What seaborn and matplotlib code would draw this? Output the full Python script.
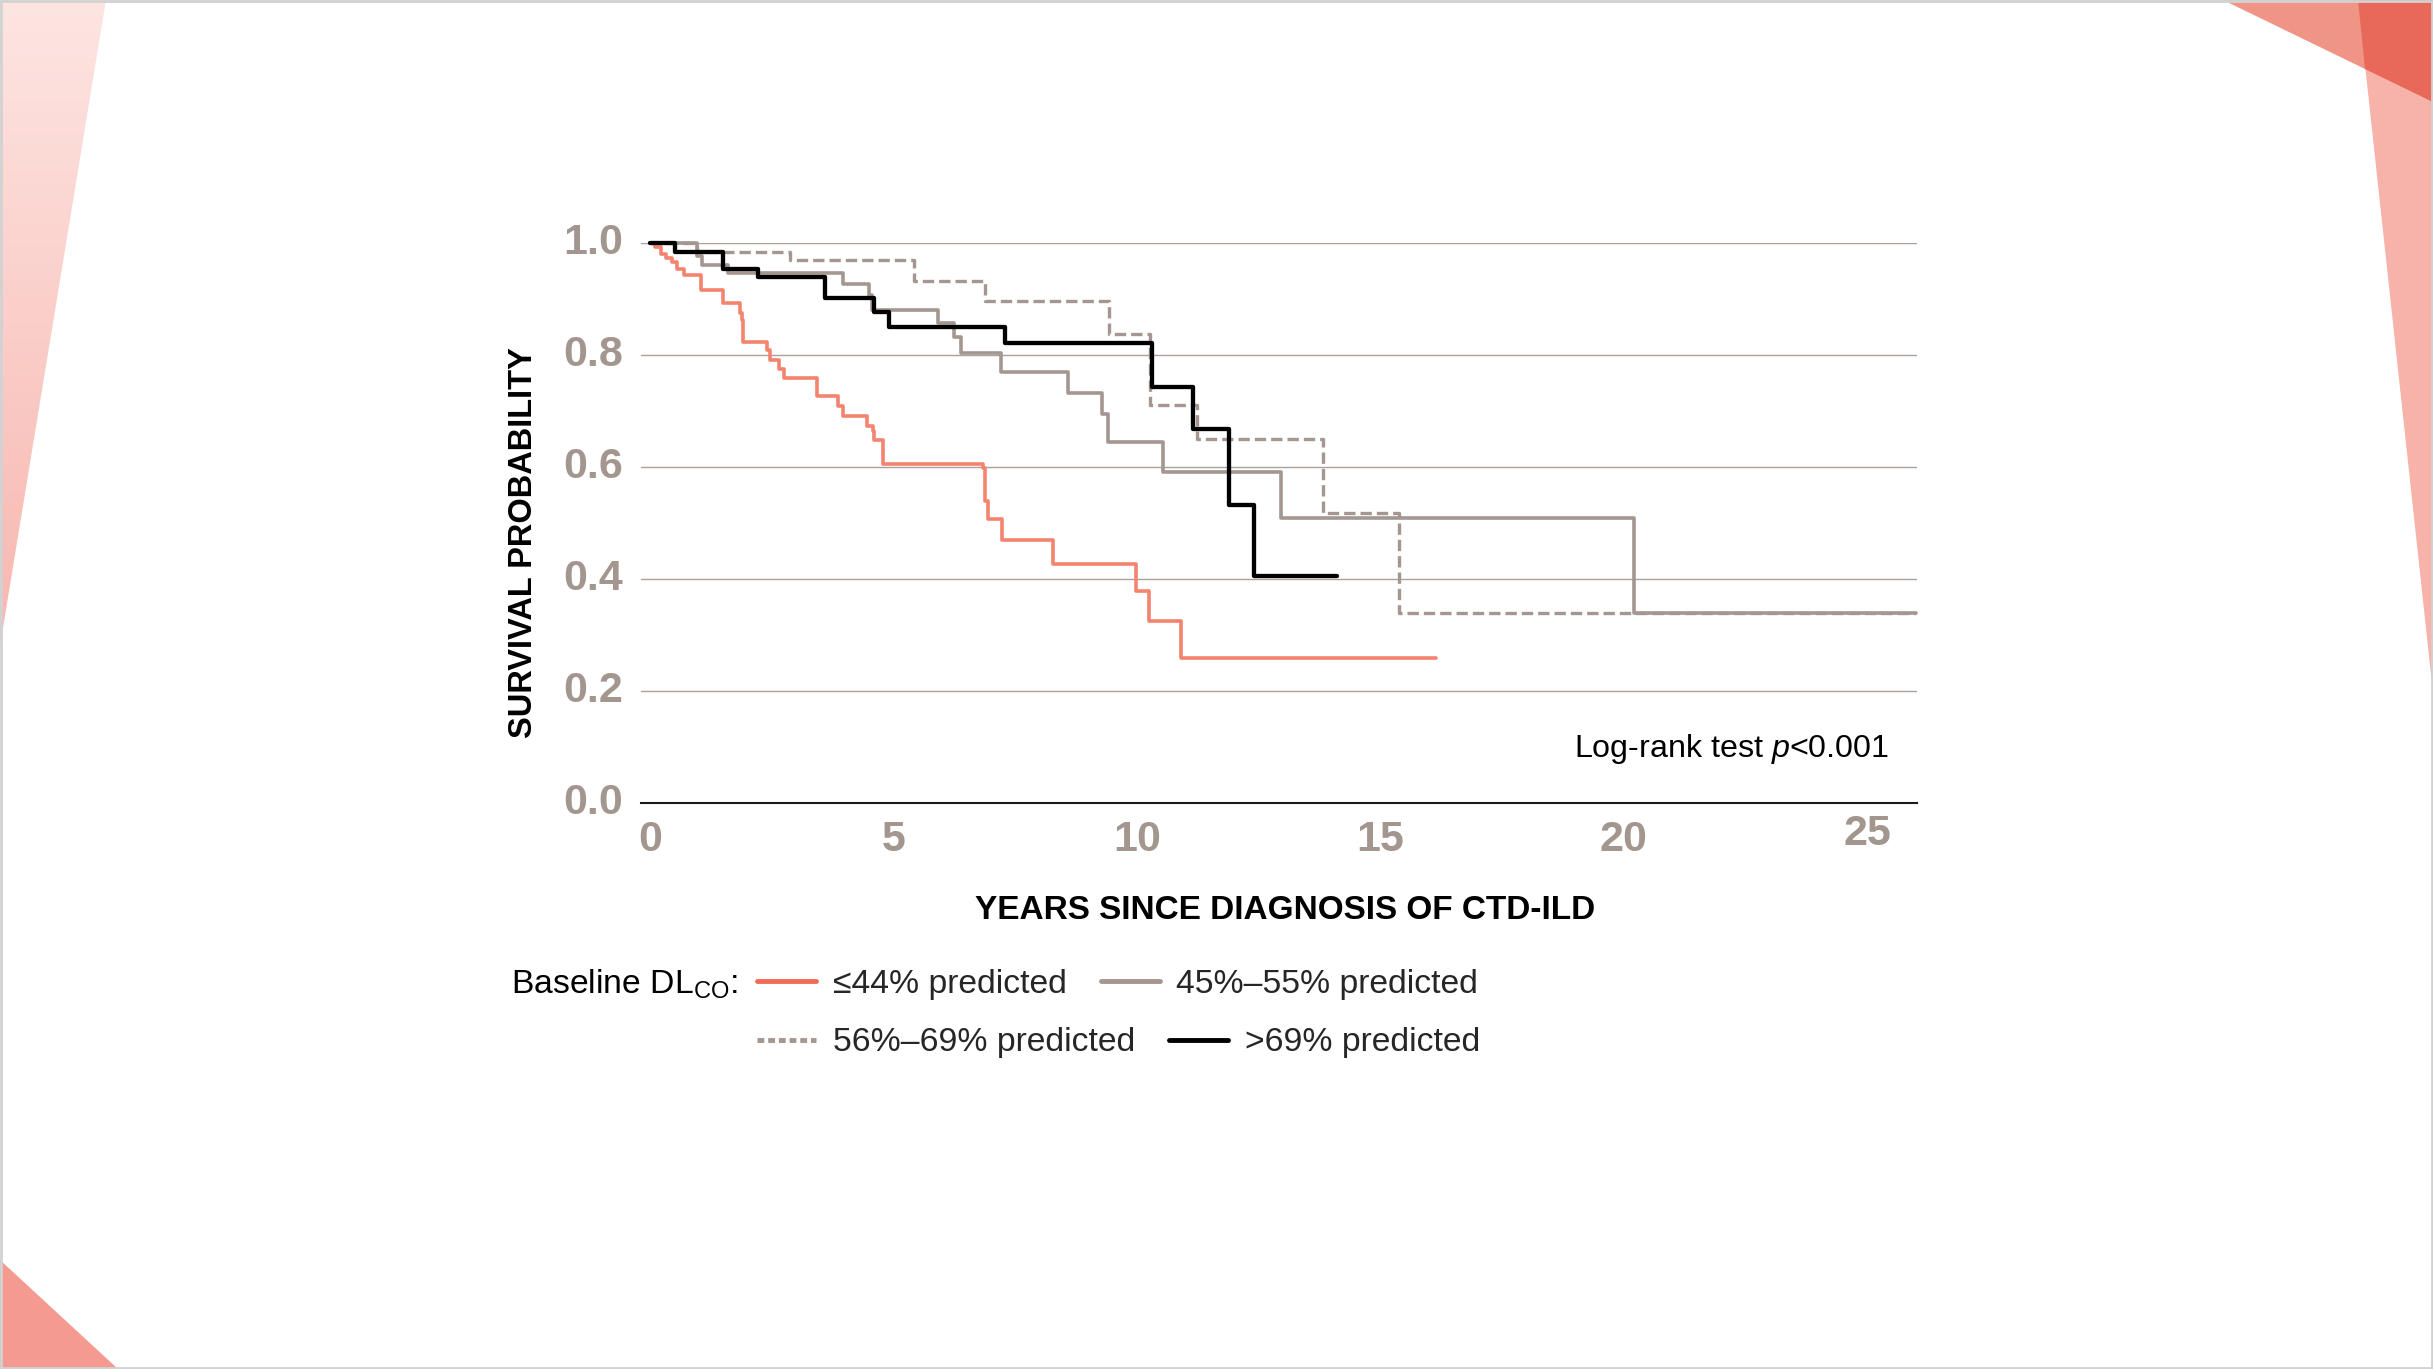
import numpy as np
import pandas as pd
import seaborn as sns
import matplotlib.pyplot as plt
from matplotlib.lines import Line2D
from matplotlib.patches import Polygon, Rectangle
from matplotlib.colors import LinearSegmentedColormap
from matplotlib.transforms import ScaledTranslation

# Kaplan-Meier steps (years, survival probability)
red_time = [0, 0.10, 0.23, 0.33, 0.46, 0.56, 0.69, 1.04, 1.50, 1.84, 1.89, 1.92, 2.40, 2.47, 2.65, 2.76,
            3.42, 3.86, 3.97, 4.46, 4.57, 4.61, 4.78, 6.84, 6.88, 6.95, 7.22, 8.27, 9.99, 10.25, 10.91, 16.15]
red_surv = [1.0, 0.993, 0.981, 0.973, 0.966, 0.955, 0.943, 0.917, 0.894, 0.875, 0.863, 0.824, 0.809, 0.792, 0.775, 0.760,
            0.727, 0.710, 0.692, 0.674, 0.665, 0.649, 0.606, 0.598, 0.539, 0.507, 0.471, 0.427, 0.380, 0.326, 0.260, 0.260]

gray_time = [0, 0.96, 1.07, 1.60, 3.97, 4.50, 4.55, 5.92, 6.24, 6.38, 7.20, 8.59, 9.29, 9.40, 10.54, 12.95, 20.20, 26.0]
gray_surv = [1.0, 0.978, 0.961, 0.947, 0.927, 0.908, 0.881, 0.857, 0.833, 0.804, 0.771, 0.733, 0.696, 0.646, 0.591, 0.510, 0.340, 0.340]

dash_time = [0, 0.96, 2.88, 5.42, 6.88, 9.42, 10.27, 11.23, 13.83, 15.39, 26.0]
dash_surv = [1.0, 0.985, 0.971, 0.933, 0.897, 0.838, 0.711, 0.651, 0.518, 0.340, 0.340]

black_time = [0, 0.52, 1.50, 2.22, 3.59, 4.60, 4.90, 7.29, 10.31, 11.16, 11.89, 12.40, 14.10]
black_surv = [1.0, 0.984, 0.955, 0.940, 0.902, 0.878, 0.850, 0.822, 0.744, 0.668, 0.533, 0.406, 0.406]

groups = ['56%–69% predicted', '45%–55% predicted', '≤44% predicted', '>69% predicted']
legend_row1 = ['≤44% predicted', '45%–55% predicted']
legend_row2 = ['56%–69% predicted', '>69% predicted']
x_ticks = [0, 5, 10, 15, 20, 25]
y_ticks = [0.0, 0.2, 0.4, 0.6, 0.8, 1.0]

RED = '#F5846F'
GRAY = '#A49690'
TICK = '#A2968F'

df = pd.concat([
    pd.DataFrame({'years': dash_time, 'surv': dash_surv, 'group': groups[0]}),
    pd.DataFrame({'years': gray_time, 'surv': gray_surv, 'group': groups[1]}),
    pd.DataFrame({'years': red_time, 'surv': red_surv, 'group': groups[2]}),
    pd.DataFrame({'years': black_time, 'surv': black_surv, 'group': groups[3]}),
])

sns.set_theme(style='white')
plt.rcParams['font.family'] = ['Liberation Sans', 'DejaVu Sans']
plt.rcParams['mathtext.fontset'] = 'custom'
plt.rcParams['mathtext.rm'] = 'Liberation Sans'
plt.rcParams['mathtext.it'] = 'Liberation Sans:italic'
plt.rcParams['mathtext.default'] = 'regular'

W, H = 2433, 1369
fig = plt.figure(figsize=(W / 100, H / 100), dpi=100, facecolor='white')

# slide decorations
bg = fig.add_axes([0, 0, 1, 1], zorder=-5)
bg.set_xlim(0, W)
bg.set_ylim(H, 0)
bg.axis('off')
wedge = Polygon([(0, 0), (106, 0), (0, 646)], closed=True, facecolor='none', edgecolor='none')
bg.add_patch(wedge)
grad = np.linspace(0, 1, 200).reshape(-1, 1)
cmap = LinearSegmentedColormap.from_list('pinkfade', ['#FDE5E2', '#F8B7B0'])
im = bg.imshow(grad, extent=[0, 106, 646, 0], cmap=cmap, aspect='auto')
im.set_clip_path(wedge)
bg.add_patch(Polygon([(2358, 0), (W, 0), (W, 693)], closed=True, color='#F7B3AA', lw=0))
bg.add_patch(Polygon([(2223, 0), (W, 0), (W, 102)], closed=True, color='#F09586', lw=0))
bg.add_patch(Polygon([(2358, 0), (W, 0), (W, 102), (2365, 69)], closed=True, color='#E8695A', lw=0))
bg.add_patch(Polygon([(0, 1260), (0, H), (118, H)], closed=True, color='#F59A90', lw=0))
bg.add_patch(Rectangle((1, 1), W - 2, H - 2, fill=False, edgecolor='#D2D2D2', lw=2))

ax = fig.add_axes([641 / W, 1 - 803.3 / H, 1276 / W, 560 / H])
sns.lineplot(data=df, x='years', y='surv', hue='group', style='group', size='group',
             hue_order=groups, style_order=groups, size_order=groups,
             palette={groups[0]: GRAY, groups[1]: GRAY, groups[2]: RED, groups[3]: 'black'},
             dashes={groups[0]: (3.4, 1.5), groups[1]: '', groups[2]: '', groups[3]: ''},
             sizes={groups[0]: 2.4, groups[1]: 2.6, groups[2]: 2.6, groups[3]: 3.1},
             drawstyle='steps-post', estimator=None, errorbar=None, legend=False, ax=ax)
for ln in ax.lines:
    ln.set_clip_on(False)

ax.set_xlim(-0.185, 26.02)
ax.set_ylim(0, 1.0)
ax.set_xticks(x_ticks)
ax.set_yticks(y_ticks)
ax.set_yticklabels([f'{v:.1f}' for v in y_ticks])
ax.tick_params(axis='both', length=0, labelsize=31, labelcolor=TICK)
ax.tick_params(axis='y', pad=13)
ax.tick_params(axis='x', pad=12)
for lab in ax.get_xticklabels() + ax.get_yticklabels():
    lab.set_fontweight('bold')
# nudge labels to sit like the original
up = ScaledTranslation(0, 3.3 / 72, fig.dpi_scale_trans)
for lab in ax.get_yticklabels():
    lab.set_transform(lab.get_transform() + up)
last = ax.get_xticklabels()[-1]
last.set_transform(last.get_transform() + ScaledTranslation(0, 4 / 72, fig.dpi_scale_trans))

ax.yaxis.grid(True, color='#ABA19C', lw=1.0)
ax.xaxis.grid(False)
ax.set_axisbelow(True)
for s in ['top', 'right', 'left']:
    ax.spines[s].set_visible(False)
ax.spines['bottom'].set_color('#1A1A1A')
ax.spines['bottom'].set_linewidth(1.5)
ax.patch.set_alpha(0)

ax.set_ylabel('SURVIVAL PROBABILITY', fontsize=23.5, fontweight='bold', color='black')
ax.yaxis.set_label_coords(-0.080, 0.465)
ax.set_xlabel('YEARS SINCE DIAGNOSIS OF CTD-ILD', fontsize=24, fontweight='bold', color='black')
ax.xaxis.set_label_coords(0.505, -0.164)

ax.text(0.978, 0.097, 'Log-rank test $\\mathit{p}$<0.001', transform=ax.transAxes,
        ha='right', va='center', fontsize=23.2, color='black')

# legend, two rows packed like the original
handles = {
    '≤44% predicted': Line2D([], [], color='#F26B56', lw=3.5),
    '45%–55% predicted': Line2D([], [], color=GRAY, lw=3.5),
    '56%–69% predicted': Line2D([], [], color=GRAY, lw=3.5, dashes=(1.4, 0.8)),
    '>69% predicted': Line2D([], [], color='black', lw=3.5),
}
for row, ypos in [(legend_row1, 1 - 984 / H), (legend_row2, 1 - 1043 / H)]:
    fig.legend([handles[k] for k in row], row, loc='center left', bbox_to_anchor=(757 / W, ypos),
               ncol=2, frameon=False, fontsize=24.3, borderpad=0, borderaxespad=0,
               handlelength=1.75, handletextpad=0.5, columnspacing=1.0)
fig.text(511 / W, 1 - 984 / H, 'Baseline DL$_{CO}$:', ha='left', va='center', fontsize=24.3, color='black')

fig.savefig('out.png', dpi=100, facecolor='white')
